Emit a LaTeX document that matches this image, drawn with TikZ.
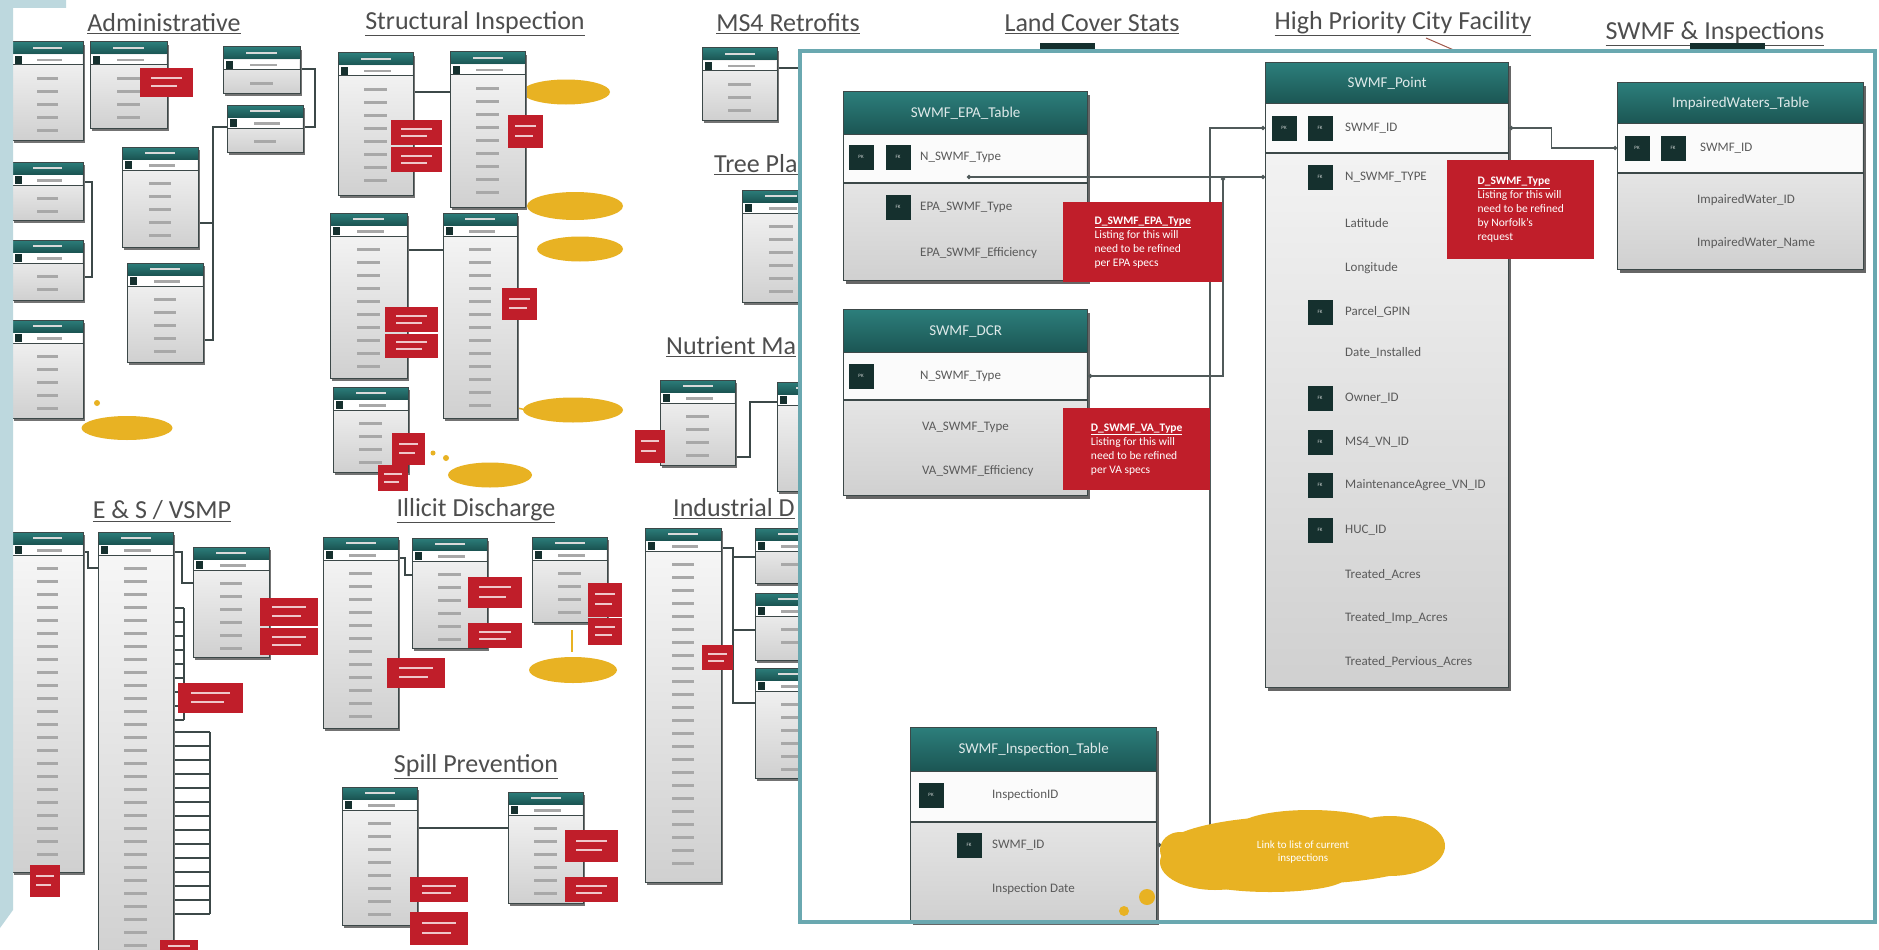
\documentclass[tikz,border=0pt]{standalone}
\usepackage{fontspec}
\setmainfont{Carlito}
\usepackage{tikz}
\usetikzlibrary{positioning,calc,shapes.geometric,shadows,arrows.meta}
\definecolor{swink}{HTML}{15302E}
\definecolor{swteal}{HTML}{226B69}
\definecolor{swtealtop}{HTML}{2C7E7B}
\definecolor{swtealbot}{HTML}{1B5553}
\definecolor{swline}{HTML}{3C4848}
\definecolor{swbodytop}{HTML}{F8F8F8}
\definecolor{swbodybot}{HTML}{D0D0D0}
\definecolor{swred}{HTML}{C01E2A}
\definecolor{swgold}{HTML}{E8B223}
\definecolor{swtext}{HTML}{5A5A5A}
\definecolor{swtitle}{HTML}{4E4E4E}
\definecolor{swframe}{HTML}{6AA8B0}
\definecolor{swstrip}{HTML}{BDD8DE}
\definecolor{swbar}{HTML}{A8A8A8}
\definecolor{swbrown}{HTML}{A0584A}
\tikzset{
  sectitle/.style={font=\fontsize{26}{30}\selectfont,text=swtitle,inner sep=1pt},
  tabbox/.style={anchor=north west,draw=swline,line width=1.3pt,top color=swbodytop,bottom color=swbodybot,inner sep=0pt,drop shadow={shadow xshift=2pt,shadow yshift=-3pt,opacity=.6,fill=black}},
  tabhead/.style={anchor=north west,top color=swtealtop,bottom color=swtealbot,draw=swline,line width=1.3pt,inner sep=0pt,text=white!85!swteal,font=\fontsize{15}{17}\selectfont},
  keybox/.style={fill=swink,minimum size=25pt,inner sep=0pt,text=white!80!swink,font=\fontsize{5}{6}\selectfont},
  rowtxt/.style={anchor=west,inner sep=0pt,text=swtext,font=\fontsize{13}{15}\selectfont},
  band/.style={fill=white!97!gray},
  sepline/.style={draw=swline,line width=1.5pt},
  note/.style={anchor=north west,fill=swred,text=white,align=left,inner sep=0pt,font=\fontsize{11.5}{14}\selectfont},
  conn/.style={draw=swline!90,line width=1.3pt,{Circle[length=4pt]}-{Circle[length=4pt]}},
  bgline/.style={draw=swline,line width=1.2pt},
  blob/.style={ellipse,fill=swgold,inner sep=0pt},
}
\newcommand\notehead[1]{\textbf{\underline{#1}}}
% small unreadable tables of the background
\newcommand\minitab[5]{%
  \fill[black!55] (#1+2,#2+3) rectangle (#3+2,#4+3);
  \shade[top color=swbodytop,bottom color=swbodybot] (#1,#2) rectangle (#3,#4);
  \shade[top color=swtealtop,bottom color=swtealbot] (#1,#2) rectangle (#3,#2+12);
  \fill[white] (#1+1,#2+13) rectangle (#3-1,#2+23);
  \draw[swline,line width=1pt] (#1,#2) rectangle (#3,#4);
  \draw[swline,line width=1pt] (#1,#2+23) -- (#3,#2+23);
  \fill[white!70!gray] ({#1+0.3*(#3-#1)},#2+5) rectangle ++({0.4*(#3-#1)},2);
  \fill[swink] (#1+3,#2+14) rectangle ++(7,8);
  \fill[swbar] ({#1+0.35*(#3-#1)},#2+17) rectangle ++({0.35*(#3-#1)},2.5);
  \foreach \k in {1,...,#5}{\fill[swbar] ({#1+0.35*(#3-#1)},{#2+22+\k*13}) rectangle ++({0.3*(#3-#1)},2.5);}
}
\newcommand\rednote[4]{%
  \fill[swred] (#1,#2) rectangle (#3,#4);
  \fill[white!75!swred] ({#1+0.2*(#3-#1)},{#2+0.3*(#4-#2)}) rectangle ++({0.6*(#3-#1)},2);
  \fill[white!75!swred] ({#1+0.2*(#3-#1)},{#2+0.6*(#4-#2)}) rectangle ++({0.5*(#3-#1)},2);
}
\begin{document}
\begin{tikzpicture}[x=1pt,y=-1pt]
  \useasboundingbox (0,0) rectangle (1879,950);
  \fill[white] (0,0) rectangle (1879,950);

  % section titles
  \node[sectitle] (tadmin) at (164,24) {\underline{Administrative}};
  \node[sectitle] (tstruct) at (475,24) {\underline{Structural Inspection}};
  \node[sectitle] (tms4) at (788,24) {\underline{MS4 Retrofits}};
  \node[sectitle] (tland) at (1092,24) {\underline{Land Cover Stats}};
  \node[sectitle] (thigh) at (1403,24) {\underline{High Priority City Facility}};
  \node[sectitle] (tswmf) at (1715,34) {\underline{SWMF \& Inspections}};
  \node[sectitle,anchor=west] (ttree) at (713,165) {\underline{Tree Pla}};
  \node[sectitle,anchor=west] (tnutr) at (665,347) {\underline{Nutrient Ma}};
  \node[sectitle] (tes) at (162,511) {\underline{E \& S / VSMP}};
  \node[sectitle] (tillicit) at (476,511) {\underline{Illicit Discharge}};
  \node[sectitle,anchor=west] (tindus) at (672,509) {\underline{Industrial D}};
  \node[sectitle] (tspill) at (476,767) {\underline{Spill Prevention}};

  % Administrative
  \draw[bgline] (300,69) -- (315,69) -- (315,127) -- (303,127);
  \draw[bgline] (83,182) -- (92,182) -- (92,277) -- (83,277);
  \draw[bgline] (198,223) -- (213,223);
  \draw[bgline] (203,340) -- (213,340) -- (213,127) -- (227,127);
  \minitab{12}{42}{83}{140}{5}
  \minitab{90}{42}{167}{128}{4}
  \rednote{140}{68}{193}{97}
  \minitab{223}{47}{300}{93}{1}
  \minitab{227}{105}{303}{152}{1}
  \minitab{12}{162}{83}{220}{2}
  \minitab{12}{240}{83}{300}{2}
  \minitab{122}{147}{198}{247}{5}
  \minitab{127}{263}{203}{362}{5}
  \minitab{12}{320}{83}{418}{5}
  \node[blob,minimum width=91,minimum height=24] (cadmin) at (127,428) {};
  \fill[swgold] (97,403) circle (3);

  % Structural Inspection
  \draw[bgline] (413,92) -- (450,92);
  \draw[bgline] (407,250) -- (443,250);
  \draw[swgold,line width=1.5pt] (525,95) -- (535,92);
  \draw[swgold,line width=1.5pt] (517,408) -- (527,410);
  \node[blob,minimum width=88,minimum height=25] (cst1) at (566,92) {};
  \node[blob,minimum width=96,minimum height=28] (cst2) at (575,206) {};
  \node[blob,minimum width=86,minimum height=25] (cst3) at (580,249) {};
  \node[blob,minimum width=100,minimum height=25] (cst4) at (573,410) {};
  \node[blob,minimum width=84,minimum height=25] (cst5) at (490,475) {};
  \fill[swgold] (433,453) circle (2.5) (446,458) circle (3);
  \minitab{338}{53}{413}{195}{8}
  \rednote{391}{120}{442}{145}
  \rednote{391}{147}{442}{172}
  \minitab{450}{52}{525}{207}{9}
  \rednote{508}{115}{543}{148}
  \minitab{330}{213}{407}{378}{10}
  \rednote{385}{307}{438}{332}
  \rednote{385}{334}{438}{358}
  \minitab{443}{213}{517}{418}{13}
  \rednote{502}{288}{537}{320}
  \minitab{333}{387}{408}{472}{4}
  \rednote{392}{433}{425}{465}
  \rednote{378}{465}{408}{491}

  % MS4 Retrofits, Tree Planting, Nutrient Management
  \draw[bgline] (777,68) -- (805,68);
  \minitab{702}{48}{777}{120}{3}
  \minitab{742}{190}{820}{302}{6}
  \draw[bgline] (735,457) -- (750,457) -- (750,402) -- (777,402);
  \minitab{660}{380}{735}{465}{4}
  \rednote{635}{430}{665}{463}
  \minitab{777}{382}{840}{491}{6}

  % E & S / VSMP
  \draw[bgline] (83,552) -- (88,552) -- (88,568) -- (98,568);
  \draw[bgline] (173,552) -- (182,552) -- (182,583) -- (193,583);
  \foreach \yy in {608,622,...,720} \draw[bgline] (173,\yy) -- (184,\yy);
  \draw[bgline] (184,608) -- (184,720);
  \foreach \yy in {732,746,...,914} \draw[bgline] (173,\yy) -- (210,\yy);
  \draw[bgline] (210,732) -- (210,914);
  \minitab{12}{532}{83}{872}{23}
  \rednote{30}{865}{60}{897}
  \minitab{98}{532}{173}{965}{30}
  \rednote{160}{940}{198}{958}
  \minitab{193}{547}{269}{657}{6}
  \rednote{260}{598}{318}{626}
  \rednote{260}{628}{318}{655}
  \rednote{178}{683}{243}{713}

  % Illicit Discharge
  \draw[bgline] (398,558) -- (405,558) -- (405,575) -- (412,575);
  \draw[swgold,line width=1.5pt] (572,630) -- (572,652);
  \node[blob,minimum width=88,minimum height=26] (cill) at (573,670) {};
  \minitab{323}{537}{398}{728}{12}
  \rednote{387}{658}{445}{688}
  \minitab{412}{538}{487}{648}{6}
  \rednote{468}{577}{522}{608}
  \rednote{468}{623}{522}{648}
  \minitab{532}{537}{607}{622}{4}
  \rednote{588}{583}{622}{617}
  \rednote{588}{618}{622}{645}

  % Spill Prevention
  \draw[bgline] (417,828) -- (508,828);
  \minitab{342}{787}{417}{925}{8}
  \rednote{410}{877}{468}{902}
  \rednote{410}{912}{468}{945}
  \minitab{508}{792}{583}{903}{6}
  \rednote{565}{830}{618}{862}
  \rednote{565}{877}{618}{902}

  % Industrial Discharge
  \draw[bgline] (721,548) -- (733,548) -- (733,703) -- (755,703);
  \draw[bgline] (733,557) -- (755,557);
  \draw[bgline] (733,630) -- (755,630);
  \minitab{645}{528}{721}{882}{24}
  \rednote{702}{645}{733}{670}
  \minitab{755}{528}{830}{583}{1}
  \minitab{755}{593}{830}{660}{2}
  \minitab{755}{668}{830}{778}{6}

  % left edge strip
  \fill[swstrip] (0,0) -- (66,0) -- (66,8) -- (13,8) -- (13,910) -- (0,928) -- cycle;

  % tables peeking above the inset
  \fill[swink] (1040,43) rectangle (1095,51);
  \fill[swink] (1690,43) rectangle (1765,51);
  \draw[swbrown,line width=1pt] (1426,38) -- (1456,51);

  % inset: SWMF & Inspections
  \fill[white] (800,51) rectangle (1875,922);

  % SWMF_EPA_Table
  \node[tabbox,minimum width=244,minimum height=189] (epa) at (843,91) {};
  \fill[band] (844,134) rectangle (1086,183);
  \node[tabhead,minimum width=244,minimum height=43] (epah) at (843,91) {SWMF\_EPA\_Table};
  \draw[sepline] (843,183) -- (1087,183);
  \node[keybox] (epak1) at (861,157) {PK};
  \node[keybox] (epak2) at (898,157) {FK};
  \node[rowtxt] (epa1) at (920,157) {N\_SWMF\_Type};
  \node[keybox] (epak3) at (898,207) {FK};
  \node[rowtxt] (epa2) at (920,207) {EPA\_SWMF\_Type};
  \node[rowtxt] (epa3) at (920,253) {EPA\_SWMF\_Efficiency};
  \coordinate (epadot) at (967,177);

  % SWMF_DCR
  \node[tabbox,minimum width=244,minimum height=186] (dcr) at (843,309) {};
  \fill[band] (844,352) rectangle (1086,400);
  \node[tabhead,minimum width=244,minimum height=43] (dcrh) at (843,309) {SWMF\_DCR};
  \draw[sepline] (843,400) -- (1087,400);
  \node[keybox] (dcrk1) at (861,376) {PK};
  \node[rowtxt] (dcr1) at (920,376) {N\_SWMF\_Type};
  \node[rowtxt] (dcr2) at (922,427) {VA\_SWMF\_Type};
  \node[rowtxt] (dcr3) at (922,471) {VA\_SWMF\_Efficiency};

  % SWMF_Point
  \node[tabbox,minimum width=243,minimum height=625] (pt) at (1265,62) {};
  \fill[band] (1266,103) rectangle (1507,153);
  \node[tabhead,minimum width=243,minimum height=41] (pth) at (1265,62) {SWMF\_Point};
  \draw[sepline] (1265,153) -- (1508,153);
  \node[keybox] (ptk1) at (1284,128) {PK};
  \node[keybox] (ptk2) at (1320,128) {FK};
  \node[rowtxt] (pt1) at (1345,128) {SWMF\_ID};
  \node[keybox] (ptk3) at (1320,177) {FK};
  \node[rowtxt] (pt2) at (1345,177) {N\_SWMF\_TYPE};
  \node[rowtxt] (pt3) at (1345,223) {Latitude};
  \node[rowtxt] (pt4) at (1345,268) {Longitude};
  \node[keybox] (ptk5) at (1320,312) {FK};
  \node[rowtxt] (pt5) at (1345,312) {Parcel\_GPIN};
  \node[rowtxt] (pt6) at (1345,353) {Date\_Installed};
  \node[keybox] (ptk7) at (1320,398) {FK};
  \node[rowtxt] (pt7) at (1345,398) {Owner\_ID};
  \node[keybox] (ptk8) at (1320,442) {FK};
  \node[rowtxt] (pt8) at (1345,442) {MS4\_VN\_ID};
  \node[keybox] (ptk9) at (1320,485) {FK};
  \node[rowtxt] (pt9) at (1345,485) {MaintenanceAgree\_VN\_ID};
  \node[keybox] (ptk10) at (1320,530) {FK};
  \node[rowtxt] (pt10) at (1345,530) {HUC\_ID};
  \node[rowtxt] (pt11) at (1345,575) {Treated\_Acres};
  \node[rowtxt] (pt12) at (1345,618) {Treated\_Imp\_Acres};
  \node[rowtxt] (pt13) at (1345,662) {Treated\_Pervious\_Acres};

  % ImpairedWaters_Table
  \node[tabbox,minimum width=246,minimum height=187] (imp) at (1617,82) {};
  \fill[band] (1618,123) rectangle (1862,173);
  \node[tabhead,minimum width=246,minimum height=41] (imph) at (1617,82) {ImpairedWaters\_Table};
  \draw[sepline] (1617,173) -- (1863,173);
  \node[keybox] (impk1) at (1637,148) {PK};
  \node[keybox] (impk2) at (1673,148) {FK};
  \node[rowtxt] (imp1) at (1700,148) {SWMF\_ID};
  \node[rowtxt] (imp2) at (1697,200) {ImpairedWater\_ID};
  \node[rowtxt] (imp3) at (1697,243) {ImpairedWater\_Name};

  % SWMF_Inspection_Table
  \node[tabbox,minimum width=246,minimum height=194] (ins) at (910,727) {};
  \fill[band] (911,771) rectangle (1155,822);
  \node[tabhead,minimum width=246,minimum height=44] (insh) at (910,727) {SWMF\_Inspection\_Table};
  \draw[sepline] (910,822) -- (1156,822);
  \node[keybox] (insk1) at (931,795) {PK};
  \node[rowtxt] (ins1) at (992,795) {InspectionID};
  \node[keybox] (insk2) at (969,845) {FK};
  \node[rowtxt] (ins2) at (992,845) {SWMF\_ID};
  \node[rowtxt] (ins3) at (992,889) {Inspection Date};

  % links
  \draw[conn] (ins.east |- ins2) -| ($(pt.west |- pt1)+(-55,0)$) -- (pt.west |- pt1);
  \draw[conn] (epadot) -- (pt.west |- pt2);
  \draw[conn] (dcr.east |- dcr1) -| ($(pt.west |- pt2)+(-42,0)$);
  \draw[conn] (pt.east |- pt1) -- ++(42,0) |- (imp.west |- imp1);

  % notes
  \node[note,minimum width=159,minimum height=80] (epanote) at (1063,202) {\notehead{D\_SWMF\_EPA\_Type}\\Listing for this will\\need to be refined\\per EPA specs};
  \node[note,minimum width=147,minimum height=82] (dcrnote) at (1063,408) {\notehead{D\_SWMF\_VA\_Type}\\Listing for this will\\need to be refined\\per VA specs};
  \node[note,minimum width=147,minimum height=99] (ptnote) at (1447,160) {\notehead{D\_SWMF\_Type}\\Listing for this will\\need to be refined\\by Norfolk's\\request};

  % callout cloud
  \fill[swgold] (1300,850) ellipse (138 and 34);
  \fill[swgold] (1215,862) ellipse (55 and 28);
  \fill[swgold] (1390,846) ellipse (55 and 30);
  \fill[swgold] (1310,826) ellipse (70 and 16);
  \fill[swgold] (1270,878) ellipse (75 and 14);
  \fill[swgold] (1180,850) ellipse (20 and 18);
  \node[inner sep=0pt,text=white,align=center,font=\fontsize{11}{13}\selectfont] (linkcloud) at (1303,852) {Link to list of current\\inspections};
  \fill[swgold] (1147,897) circle (8) (1124,911) circle (5);

  % inset frame
  \draw[swframe,line width=4pt] (800,51) rectangle (1875,922);
\end{tikzpicture}
\end{document}
